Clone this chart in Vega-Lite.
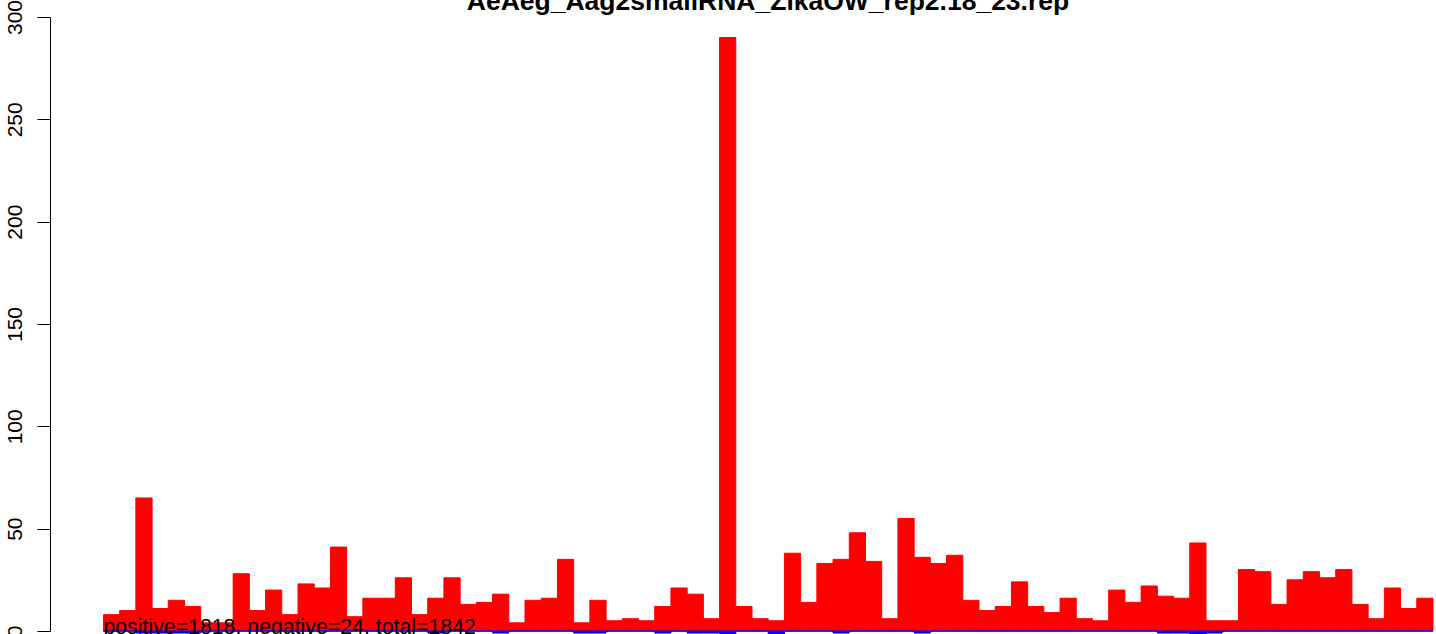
{
  "$schema": "https://vega.github.io/schema/vega-lite/v6.json",
  "autosize": {"type": "none"},
  "width": 1362,
  "height": 614,
  "padding": {"left": 71, "top": 17, "right": 3, "bottom": 3},
  "background": "white",
  "config": {"view": {"stroke": null}},
  "title": {"text": "AeAeg_Aag2smallRNA_ZikaOW_rep2.18_23.rep", "font": "Liberation Sans", "fontSize": 26.5, "fontWeight": "bold", "color": "black", "anchor": "middle", "frame": "group", "dx": 16, "dy": 43, "baseline": "alphabetic", "offset": 6},
  "layer": [
    {
      "data": {"values": [
        {"bin":1,"strand":"positive","count":8},{"bin":2,"strand":"positive","count":10},{"bin":3,"strand":"positive","count":65},{"bin":4,"strand":"positive","count":11},{"bin":5,"strand":"positive","count":15},{"bin":6,"strand":"positive","count":12},{"bin":7,"strand":"positive","count":4},{"bin":8,"strand":"positive","count":4},{"bin":9,"strand":"positive","count":28},{"bin":10,"strand":"positive","count":10},
        {"bin":11,"strand":"positive","count":20},{"bin":12,"strand":"positive","count":8},{"bin":13,"strand":"positive","count":23},{"bin":14,"strand":"positive","count":21},{"bin":15,"strand":"positive","count":41},{"bin":16,"strand":"positive","count":7},{"bin":17,"strand":"positive","count":16},{"bin":18,"strand":"positive","count":16},{"bin":19,"strand":"positive","count":26},{"bin":20,"strand":"positive","count":8},
        {"bin":21,"strand":"positive","count":16},{"bin":22,"strand":"positive","count":26},{"bin":23,"strand":"positive","count":13},{"bin":24,"strand":"positive","count":14},{"bin":25,"strand":"positive","count":18},{"bin":26,"strand":"positive","count":4},{"bin":27,"strand":"positive","count":15},{"bin":28,"strand":"positive","count":16},{"bin":29,"strand":"positive","count":35},{"bin":30,"strand":"positive","count":4},
        {"bin":31,"strand":"positive","count":15},{"bin":32,"strand":"positive","count":5},{"bin":33,"strand":"positive","count":6},{"bin":34,"strand":"positive","count":5},{"bin":35,"strand":"positive","count":12},{"bin":36,"strand":"positive","count":21},{"bin":37,"strand":"positive","count":18},{"bin":38,"strand":"positive","count":6},{"bin":39,"strand":"positive","count":290},{"bin":40,"strand":"positive","count":12},
        {"bin":41,"strand":"positive","count":6},{"bin":42,"strand":"positive","count":5},{"bin":43,"strand":"positive","count":38},{"bin":44,"strand":"positive","count":14},{"bin":45,"strand":"positive","count":33},{"bin":46,"strand":"positive","count":35},{"bin":47,"strand":"positive","count":48},{"bin":48,"strand":"positive","count":34},{"bin":49,"strand":"positive","count":6},{"bin":50,"strand":"positive","count":55},
        {"bin":51,"strand":"positive","count":36},{"bin":52,"strand":"positive","count":33},{"bin":53,"strand":"positive","count":37},{"bin":54,"strand":"positive","count":15},{"bin":55,"strand":"positive","count":10},{"bin":56,"strand":"positive","count":12},{"bin":57,"strand":"positive","count":24},{"bin":58,"strand":"positive","count":12},{"bin":59,"strand":"positive","count":9},{"bin":60,"strand":"positive","count":16},
        {"bin":61,"strand":"positive","count":6},{"bin":62,"strand":"positive","count":5},{"bin":63,"strand":"positive","count":20},{"bin":64,"strand":"positive","count":14},{"bin":65,"strand":"positive","count":22},{"bin":66,"strand":"positive","count":17},{"bin":67,"strand":"positive","count":16},{"bin":68,"strand":"positive","count":43},{"bin":69,"strand":"positive","count":5},{"bin":70,"strand":"positive","count":5},
        {"bin":71,"strand":"positive","count":30},{"bin":72,"strand":"positive","count":29},{"bin":73,"strand":"positive","count":13},{"bin":74,"strand":"positive","count":25},{"bin":75,"strand":"positive","count":29},{"bin":76,"strand":"positive","count":26},{"bin":77,"strand":"positive","count":30},{"bin":78,"strand":"positive","count":13},{"bin":79,"strand":"positive","count":6},{"bin":80,"strand":"positive","count":21},
        {"bin":81,"strand":"positive","count":11},{"bin":82,"strand":"positive","count":16},
        {"bin":1,"strand":"negative","count":0},{"bin":2,"strand":"negative","count":0},{"bin":3,"strand":"negative","count":-1},{"bin":4,"strand":"negative","count":-1},{"bin":5,"strand":"negative","count":-1},{"bin":6,"strand":"negative","count":-1},{"bin":7,"strand":"negative","count":0},{"bin":8,"strand":"negative","count":0},{"bin":9,"strand":"negative","count":0},{"bin":10,"strand":"negative","count":0},
        {"bin":11,"strand":"negative","count":0},{"bin":12,"strand":"negative","count":0},{"bin":13,"strand":"negative","count":0},{"bin":14,"strand":"negative","count":0},{"bin":15,"strand":"negative","count":0},{"bin":16,"strand":"negative","count":0},{"bin":17,"strand":"negative","count":0},{"bin":18,"strand":"negative","count":0},{"bin":19,"strand":"negative","count":0},{"bin":20,"strand":"negative","count":0},
        {"bin":21,"strand":"negative","count":-1},{"bin":22,"strand":"negative","count":0},{"bin":23,"strand":"negative","count":0},{"bin":24,"strand":"negative","count":0},{"bin":25,"strand":"negative","count":-1},{"bin":26,"strand":"negative","count":0},{"bin":27,"strand":"negative","count":0},{"bin":28,"strand":"negative","count":0},{"bin":29,"strand":"negative","count":0},{"bin":30,"strand":"negative","count":-1},
        {"bin":31,"strand":"negative","count":-1},{"bin":32,"strand":"negative","count":0},{"bin":33,"strand":"negative","count":0},{"bin":34,"strand":"negative","count":0},{"bin":35,"strand":"negative","count":-1},{"bin":36,"strand":"negative","count":0},{"bin":37,"strand":"negative","count":-1},{"bin":38,"strand":"negative","count":-1},{"bin":39,"strand":"negative","count":-3},{"bin":40,"strand":"negative","count":0},
        {"bin":41,"strand":"negative","count":0},{"bin":42,"strand":"negative","count":-2},{"bin":43,"strand":"negative","count":0},{"bin":44,"strand":"negative","count":0},{"bin":45,"strand":"negative","count":0},{"bin":46,"strand":"negative","count":-1},{"bin":47,"strand":"negative","count":0},{"bin":48,"strand":"negative","count":0},{"bin":49,"strand":"negative","count":0},{"bin":50,"strand":"negative","count":0},
        {"bin":51,"strand":"negative","count":-1},{"bin":52,"strand":"negative","count":0},{"bin":53,"strand":"negative","count":0},{"bin":54,"strand":"negative","count":0},{"bin":55,"strand":"negative","count":0},{"bin":56,"strand":"negative","count":0},{"bin":57,"strand":"negative","count":0},{"bin":58,"strand":"negative","count":0},{"bin":59,"strand":"negative","count":0},{"bin":60,"strand":"negative","count":0},
        {"bin":61,"strand":"negative","count":0},{"bin":62,"strand":"negative","count":0},{"bin":63,"strand":"negative","count":0},{"bin":64,"strand":"negative","count":0},{"bin":65,"strand":"negative","count":0},{"bin":66,"strand":"negative","count":-1},{"bin":67,"strand":"negative","count":-1},{"bin":68,"strand":"negative","count":-3},{"bin":69,"strand":"negative","count":-1},{"bin":70,"strand":"negative","count":0},
        {"bin":71,"strand":"negative","count":0},{"bin":72,"strand":"negative","count":0},{"bin":73,"strand":"negative","count":0},{"bin":74,"strand":"negative","count":0},{"bin":75,"strand":"negative","count":0},{"bin":76,"strand":"negative","count":0},{"bin":77,"strand":"negative","count":0},{"bin":78,"strand":"negative","count":0},{"bin":79,"strand":"negative","count":0},{"bin":80,"strand":"negative","count":0},
        {"bin":81,"strand":"negative","count":0},{"bin":82,"strand":"negative","count":0}
      ]},
      "mark": {"type": "bar", "strokeWidth": 1},
      "encoding": {
        "x": {"field": "bin", "type": "ordinal", "axis": null, "sort": "ascending",
              "scale": {"type": "band", "paddingInner": 0, "paddingOuter": 1, "align": 1}},
        "y": {"field": "count", "type": "quantitative", "stack": null,
              "scale": {"domain": [0, 300], "nice": false, "zero": true},
              "axis": {"values": [0, 50, 100, 150, 200, 250, 300], "title": null, "grid": false, "offset": 21,
                       "labelAngle": -90, "labelFont": "Liberation Sans", "labelFontSize": 21, "labelColor": "black",
                       "tickColor": "black", "domainColor": "black", "tickSize": 13, "labelPadding": 12,
                       "labelFlush": false, "labelOverlap": false, "labelBound": false}},
        "color": {"field": "strand", "type": "nominal", "legend": null,
                  "scale": {"domain": ["positive", "negative"], "range": ["#FF0000", "#0000FF"]}},
        "stroke": {"field": "strand", "type": "nominal", "legend": null,
                   "scale": {"domain": ["positive", "negative"], "range": ["#FF0000", "#0000FF"]}}
      }
    },
    {
      "data": {"values": [{"label": "positive=1818, negative=24, total=1842"}]},
      "mark": {"type": "text", "align": "left", "baseline": "alphabetic", "dy": 3, "font": "Liberation Sans", "fontSize": 21.3, "color": "black"},
      "encoding": {
        "x": {"datum": 1, "type": "ordinal", "bandPosition": 0},
        "y": {"datum": 0, "type": "quantitative"},
        "text": {"field": "label"}
      }
    }
  ]
}
